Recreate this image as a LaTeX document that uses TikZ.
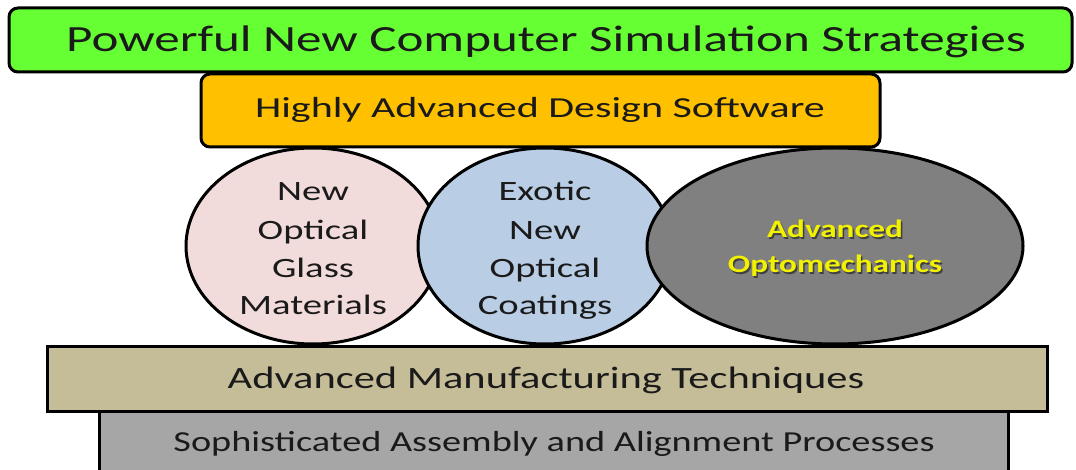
\documentclass[tikz,border=0pt]{standalone}
\usepackage{fontspec}
\setmainfont{Carlito}
\newfontfamily\fgreen[FakeStretch=1.38]{Carlito}
\newfontfamily\forange[FakeStretch=1.45]{Carlito}
\newfontfamily\fcirc[FakeStretch=1.38]{Carlito}
\newfontfamily\fopto[FakeStretch=1.33]{Carlito}
\newfontfamily\ftan[FakeStretch=1.37]{Carlito}
\newfontfamily\fgbar[FakeStretch=1.32]{Carlito}
\usetikzlibrary{shapes.geometric}
\definecolor{cgreen}{HTML}{66FF33}
\definecolor{corange}{HTML}{FFC000}
\definecolor{cpink}{HTML}{F2DCDB}
\definecolor{cblue}{HTML}{B9CDE5}
\definecolor{cgrayell}{HTML}{808080}
\definecolor{ctan}{HTML}{C4BD97}
\definecolor{cgraybar}{HTML}{A6A6A6}
\definecolor{ctext}{HTML}{1A1A1A}
\definecolor{cyel}{HTML}{F2F200}
\tikzset{
  base/.style={draw=black, line width=3pt, inner sep=0pt},
  rbox/.style={base, rectangle, rounded corners=9pt},
  sbox/.style={base, rectangle},
  oval/.style={base, ellipse},
  ln/.style={inner sep=0pt, anchor=base, text=ctext},
  circtxt/.style={ln, font=\fcirc\fontsize{28}{32}\selectfont},
  optotxt/.style={ln, text=cyel, font=\fopto\bfseries\fontsize{25}{30}\selectfont},
  optoshadow/.style={ln, text=black!75, font=\fopto\bfseries\fontsize{25}{30}\selectfont},
}
\begin{document}
\begin{tikzpicture}[x=1pt,y=-1pt]
\useasboundingbox (0,0) rectangle (1076,470);
\clip (0,0) rectangle (1076,470);
% top bars
\node[rbox, fill=cgreen, minimum width=1063pt, minimum height=64pt] (green) at (540.5,40) {};
\node[ln, font=\fgreen\fontsize{37}{40}\selectfont] (greent) at (546,52) {Powerful New Computer Simulation Strategies};
\node[rbox, fill=corange, minimum width=679pt, minimum height=73pt] (orange) at (540.5,110.5) {};
\node[ln, font=\forange\fontsize{29}{32}\selectfont] (oranget) at (540,118) {Highly Advanced Design Software};
% ellipses
\node[oval, fill=cpink, minimum width=254pt, minimum height=196pt] (pink) at (313,246) {};
\node[circtxt] (p1) at (313,201) {New};
\node[circtxt] (p2) at (313,239.5) {Optical};
\node[circtxt] (p3) at (313,277.5) {Glass};
\node[circtxt] (p4) at (313,315) {Materials};
\node[oval, fill=cblue, minimum width=254pt, minimum height=196pt] (blue) at (545,246) {};
\node[circtxt] (b1) at (545,201) {Exotic};
\node[circtxt] (b2) at (545,239.5) {New};
\node[circtxt] (b3) at (545,277.5) {Optical};
\node[circtxt] (b4) at (545,315) {Coatings};
\node[oval, fill=cgrayell, minimum width=376pt, minimum height=196pt] (grayell) at (835,246) {};
\node[optoshadow] (g1s) at (836.5,239.5) {Advanced};
\node[optoshadow] (g2s) at (836.5,274.5) {Optomechanics};
\node[optotxt] (g1) at (835,238) {Advanced};
\node[optotxt] (g2) at (835,273) {Optomechanics};
% bottom bars
\node[sbox, fill=cgraybar, minimum width=909pt, minimum height=80pt] (graybar) at (553.5,451) {};
\node[ln, font=\fgbar\fontsize{29}{32}\selectfont] (graybart) at (554,451) {Sophisticated Assembly and Alignment Processes};
\node[sbox, fill=ctan, minimum width=1000pt, minimum height=65pt] (tan) at (547,378.5) {};
\node[ln, font=\ftan\fontsize{31}{36}\selectfont] (tant) at (546,388) {Advanced Manufacturing Techniques};
\end{tikzpicture}
\end{document}
